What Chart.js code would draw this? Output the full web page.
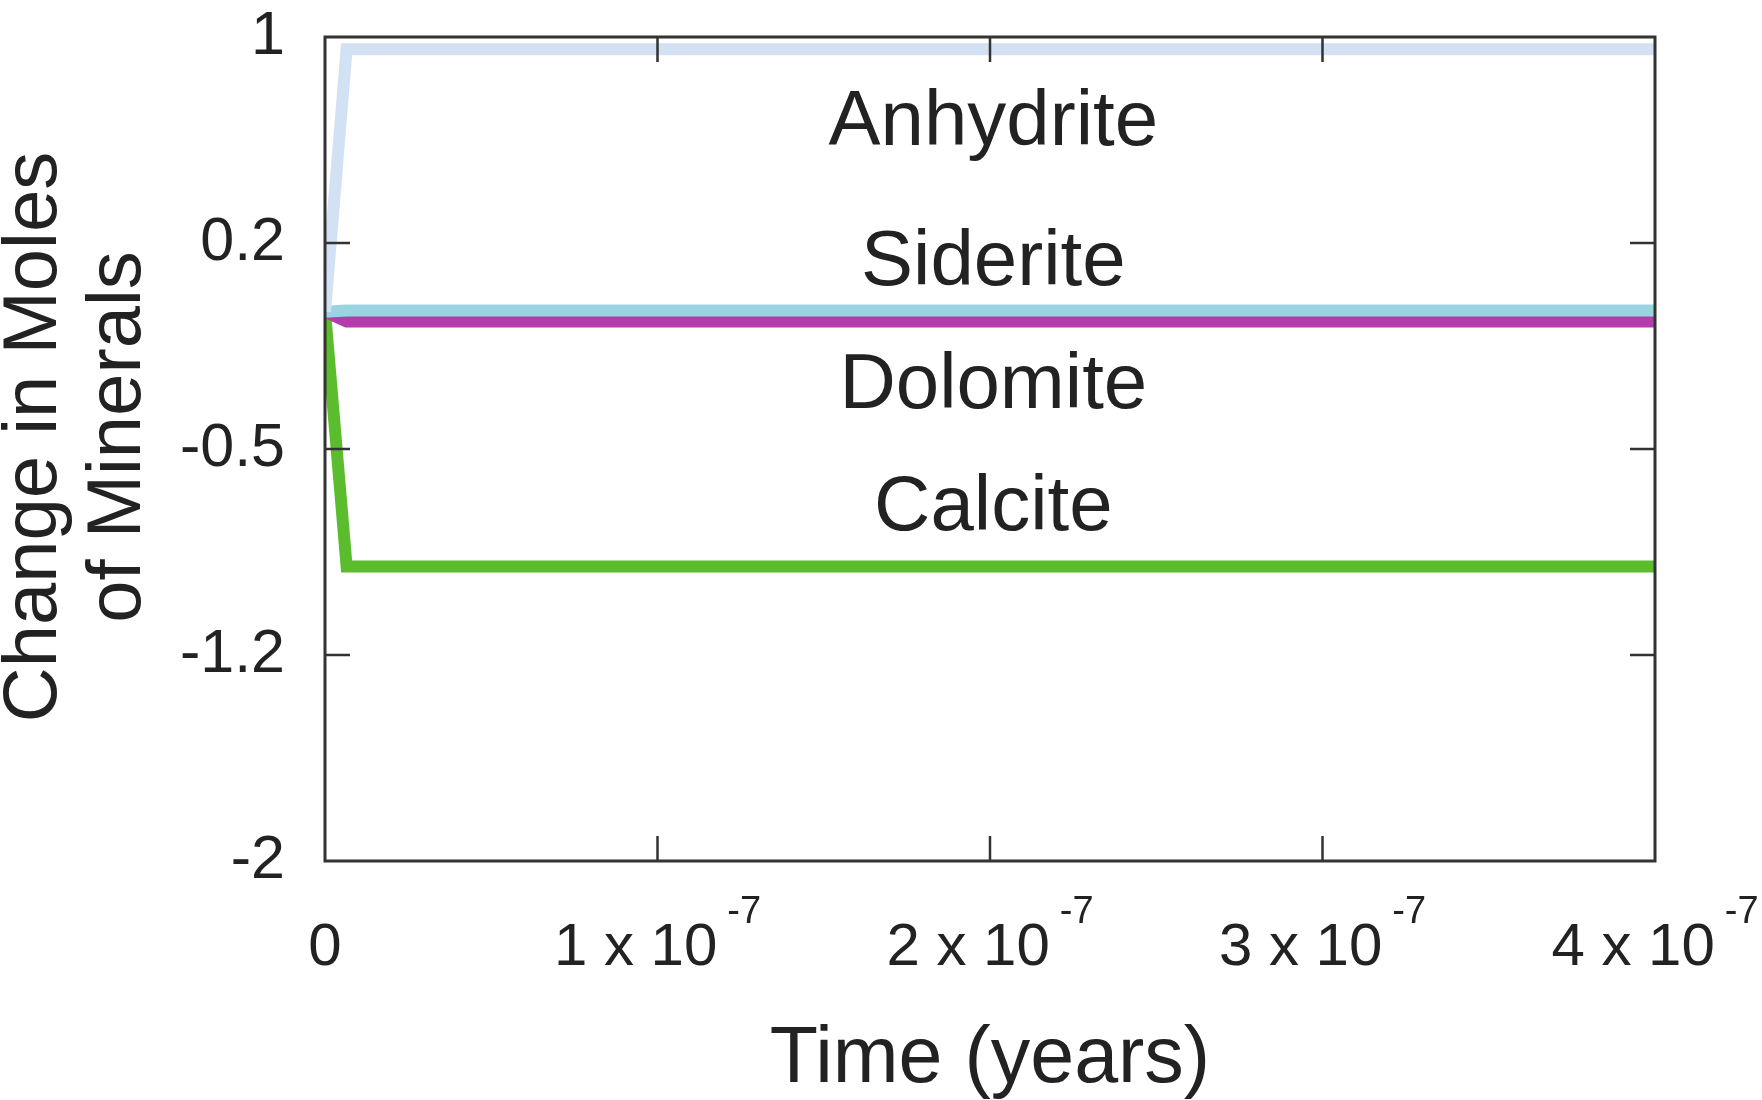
<!DOCTYPE html>
<html>
<head>
<meta charset="utf-8">
<title>Change in Moles of Minerals</title>
<script src="https://cdn.jsdelivr.net/npm/chart.js@4.4.1/dist/chart.umd.min.js"></script>
<style>
  body { margin: 0; background: #fff; }
  #wrap { width: 1762px; height: 1100px; }
</style>
</head>
<body>
<div id="wrap"><canvas id="mineralChart" width="1762" height="1100"></canvas></div>
<script>
// model output: change in moles per mineral over time (years)
const time = [0, 6.5e-9, 4e-7];
const anhydrite = [0, 0.955, 0.955];
const siderite = [0, 0.004, 0.004];
const dolomite = [0, -0.036, -0.036];
const calcite = [0, -0.928, -0.928];

const minerals = ['Anhydrite', 'Siderite', 'Dolomite', 'Calcite'];
const mineralColors = ['#d3e1f4', '#98d5e0', '#b43cab', '#5bbd2d'];

// where each mineral name sits, in data units (time, moles)
const nameAnchors = [[2.01e-7, 0.607], [2.01e-7, 0.097], [2.01e-7, -0.351], [2.01e-7, -0.795]];

const xTicks = [0, 1e-7, 2e-7, 3e-7, 4e-7];
const xTickBase = ['0', '1 x 10', '2 x 10', '3 x 10', '4 x 10'];
const xTickExp = ['', '-7', '-7', '-7', '-7'];

const yTicks = [-2, -1.25, -0.5, 0.25, 1];
const yTickLabels = ['-2', '-1.2', '-0.5', '0.2', '1'];
const yTitle = ['Change in Moles', 'of Minerals'];

const FONT = '"Liberation Sans", Arial, Helvetica, sans-serif';
const INK = '#222';

function series(values) {
  return time.map((t, i) => ({ x: t, y: values[i] }));
}

// frame, inward tick marks, x tick labels with exponents, mineral names, y title
const decorations = {
  id: 'decorations',
  afterDatasetsDraw(chart) {
    const { ctx, chartArea: a, scales: { x, y } } = chart;
    ctx.save();

    ctx.strokeStyle = '#333';
    ctx.lineWidth = 2.5;
    ctx.beginPath();
    x.ticks.forEach(t => {
      if (t.value <= x.min || t.value >= x.max) return;
      const px = x.getPixelForValue(t.value);
      ctx.moveTo(px, a.top); ctx.lineTo(px, a.top + 25);
      ctx.moveTo(px, a.bottom); ctx.lineTo(px, a.bottom - 25);
    });
    y.ticks.forEach(t => {
      if (t.value <= y.min || t.value >= y.max) return;
      const py = y.getPixelForValue(t.value);
      ctx.moveTo(a.left, py); ctx.lineTo(a.left + 25, py);
      ctx.moveTo(a.right, py); ctx.lineTo(a.right - 25, py);
    });
    ctx.stroke();

    ctx.lineWidth = 3;
    ctx.strokeRect(a.left, a.top, a.right - a.left, a.bottom - a.top);

    ctx.fillStyle = INK;
    ctx.textAlign = 'left';
    ctx.textBaseline = 'alphabetic';
    const baseFont = '60px ' + FONT;
    const expFont = '38px ' + FONT;
    xTicks.forEach((v, i) => {
      ctx.font = baseFont;
      const wb = ctx.measureText(xTickBase[i]).width;
      ctx.font = expFont;
      const we = xTickExp[i] ? ctx.measureText(xTickExp[i]).width : 0;
      const gap = xTickExp[i] ? 10 : 0;
      const left = x.getPixelForValue(v) - (wb + gap + we) / 2;
      ctx.font = baseFont;
      ctx.fillText(xTickBase[i], left, a.bottom + 104);
      if (xTickExp[i]) {
        ctx.font = expFont;
        ctx.fillText(xTickExp[i], left + wb + gap, a.bottom + 62);
      }
    });

    ctx.font = '78px ' + FONT;
    ctx.textAlign = 'center';
    minerals.forEach((name, i) => {
      const [tx, ty] = nameAnchors[i];
      ctx.fillText(name, x.getPixelForValue(tx), y.getPixelForValue(ty));
    });

    // two-line rotated y title, hugging the left edge
    ctx.font = '76px ' + FONT;
    ctx.translate(56, (a.top + a.bottom) / 2 - 12);
    ctx.rotate(-Math.PI / 2);
    yTitle.forEach((line, i) => ctx.fillText(line, 0, i * 84));

    ctx.restore();
  }
};

new Chart(document.getElementById('mineralChart'), {
  type: 'line',
  data: {
    datasets: minerals.map((name, i) => ({
      label: name,
      data: series([anhydrite, siderite, dolomite, calcite][i]),
      borderColor: mineralColors[i],
      borderWidth: 12,
      pointRadius: 0,
      tension: 0,
      fill: false
    }))
  },
  options: {
    responsive: false,
    animation: false,
    devicePixelRatio: 1,
    layout: { padding: { top: 37, right: 107, left: 0, bottom: 0 } },
    plugins: {
      legend: { display: false },
      tooltip: { enabled: false }
    },
    scales: {
      x: {
        type: 'linear',
        min: 0,
        max: 4e-7,
        grid: { display: false, drawTicks: false },
        border: { display: false },
        ticks: { display: false },
        afterBuildTicks: s => { s.ticks = xTicks.map(v => ({ value: v })); },
        afterFit: s => { s.height = 239; s.paddingLeft = 0; s.paddingRight = 0; },
        title: {
          display: true,
          text: 'Time (years)',
          color: INK,
          font: { family: FONT, size: 79, lineHeight: 1.1 },
          padding: { top: 0, bottom: -4 }
        }
      },
      y: {
        type: 'linear',
        min: -2,
        max: 1,
        grid: { display: false, drawTicks: false },
        border: { display: false },
        afterBuildTicks: s => { s.ticks = yTicks.map(v => ({ value: v })); },
        afterFit: s => { s.width = 325; s.paddingTop = 0; s.paddingBottom = 0; },
        ticks: {
          color: INK,
          padding: 40,
          font: { family: FONT, size: 61, lineHeight: 1 },
          callback: (v, i) => yTickLabels[i]
        }
      }
    }
  },
  plugins: [decorations]
});
</script>
</body>
</html>
